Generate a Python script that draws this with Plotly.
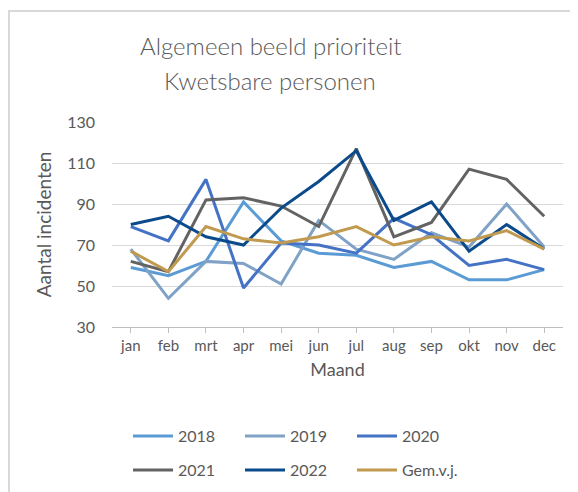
import plotly.graph_objects as go

months = ["jan", "feb", "mrt", "apr", "mei", "jun", "jul", "aug", "sep", "okt", "nov", "dec"]
y2018 = [59, 55, 62, 91, 72, 66, 65, 59, 62, 53, 53, 58]
y2019 = [68, 44, 62, 61, 51, 82, 68, 63, 76, 69, 90, 69]
y2020 = [79, 72, 102, 49, 71, 70, 66, 83, 75, 60, 63, 58]
y2021 = [62, 57, 92, 93, 89, 79, 117, 74, 81, 107, 102, 84]
y2022 = [80, 84, 74, 70, 88, 101, 116, 82, 91, 67, 80, 68]
gem = [67, 57, 79, 73, 71, 74, 79, 70, 74, 72, 77, 68]

names = ["2018", "2019", "2020", "2021", "2022", "Gem.v.j."]
values = [y2018, y2019, y2020, y2021, y2022, gem]
colors = ["#5B9BD5", "#7FA2C6", "#4472C4", "#636363", "#0B4B8C", "#C09A4E"]

FONT = "Lato"
TXT = "#595959"

# page offset of the plot div inside the browser window (body margin)
OFF = 8
W, H = 578, 492
# desired plot area in window pixels
PX0, PX1, PY0, PY1 = 112, 563, 122, 327
L, T = PX0 - OFF, PY0 - OFF
R = W - (PX1 - OFF)
B = H - (PY1 - OFF)
pw = W - L - R
ph = H - T - B

def px(x):
    return (x - OFF - L) / pw

def py(y):
    return (H - B - (y - OFF)) / ph

fig = go.Figure()
leg_x = [128, 240, 352, 128, 240, 352]
leg_y = [436, 436, 436, 470, 470, 470]
legends = {}
for i, (name, vals, col) in enumerate(zip(names, values, colors)):
    key = "legend" if i == 0 else f"legend{i + 1}"
    fig.add_trace(go.Scatter(x=months, y=vals, name=name, mode="lines", legend=key,
                             line=dict(color=col, width=3)))
    legends[key] = dict(x=px(leg_x[i]), y=py(leg_y[i]), xanchor="left", yanchor="middle",
                        orientation="h", itemwidth=40,
                        font=dict(size=16, color=TXT, family=FONT),
                        bgcolor="rgba(0,0,0,0)")

fig.update_layout(
    width=W, height=H,
    margin=dict(l=L, r=R, t=T, b=B, pad=0, autoexpand=False),
    paper_bgcolor="white", plot_bgcolor="white",
    font=dict(family=FONT, color=TXT, size=14),
    showlegend=True,
    xaxis=dict(type="category", range=[-0.5, 11.5], showgrid=False, automargin=False,
               showline=True, linecolor="#BFBFBF", linewidth=1,
               ticks="outside", ticklen=5, tickcolor="#BFBFBF",
               tickfont=dict(size=15, color=TXT),
               title=dict(text="Maand", font=dict(size=18, color=TXT), standoff=10)),
    yaxis=dict(range=[30, 130], tickvals=[30, 50, 70, 90, 110, 130], automargin=False,
               showgrid=True, gridcolor="#D9D9D9", gridwidth=1,
               zeroline=False, showline=False, ticks="",
               tickfont=dict(size=16, color=TXT), ticklabelstandoff=16,
               title=dict(text="Aantal incidenten", font=dict(size=19, color=TXT), standoff=10)),
    annotations=[
        dict(text="Algemeen beeld prioriteit", x=px(270), y=py(46), xref="paper", yref="paper",
             showarrow=False, font=dict(size=24, color=TXT, family=FONT, weight=300),
             xanchor="center", yanchor="middle"),
        dict(text="Kwetsbare personen", x=px(270), y=py(80), xref="paper", yref="paper",
             showarrow=False, font=dict(size=24, color=TXT, family=FONT, weight=300),
             xanchor="center", yanchor="middle"),
    ],
    shapes=[dict(type="rect", xref="paper", yref="paper", x0=px(9), x1=px(700), y0=py(600), y1=py(11),
                 line=dict(color="#D9D9D9", width=2), fillcolor="rgba(0,0,0,0)", layer="below")],
)
fig.update_layout(**legends)

fig.write_html("out.html")
